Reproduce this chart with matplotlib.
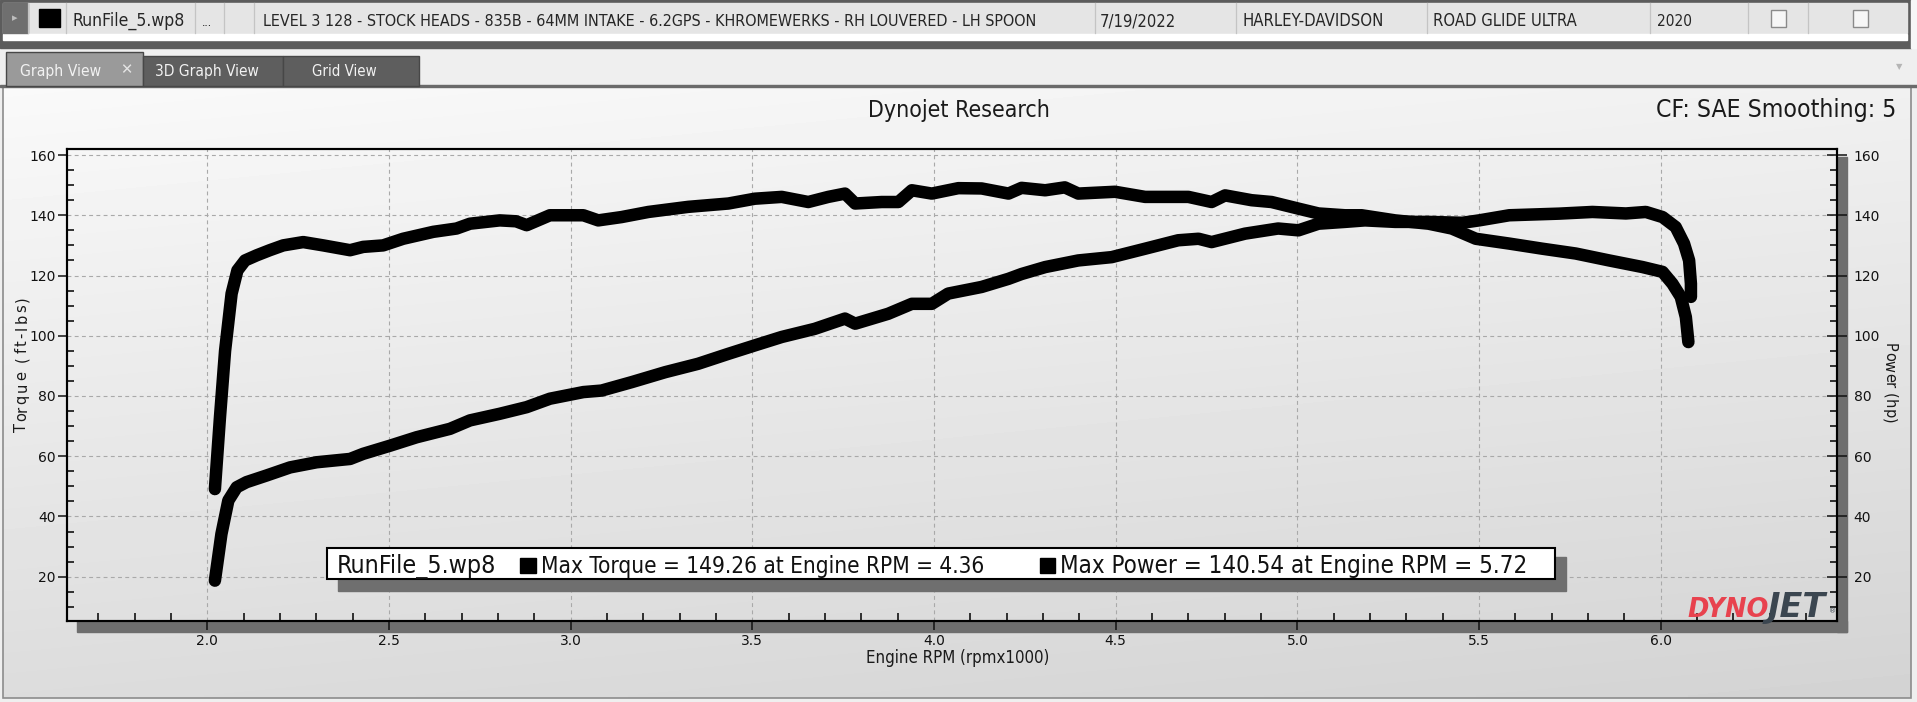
import numpy as np
import matplotlib
matplotlib.use("Agg")
import matplotlib.pyplot as plt
from matplotlib import font_manager as fm
from matplotlib.patches import Rectangle
from matplotlib.ticker import MultipleLocator, FixedLocator

# ------------------------------------------------------------------ data
torque_rpm = [2.021, 2.035, 2.049, 2.067, 2.083, 2.104, 2.136, 2.172, 2.209, 2.264,
              2.319, 2.393, 2.429, 2.484, 2.539, 2.622, 2.686, 2.723, 2.805, 2.850,
              2.879, 2.943, 3.035, 3.076, 3.140, 3.214, 3.324, 3.434, 3.507, 3.581,
              3.654, 3.709, 3.755, 3.783, 3.856, 3.902, 3.939, 3.994, 4.067, 4.131,
              4.205, 4.241, 4.306, 4.360, 4.397, 4.498, 4.581, 4.700, 4.764, 4.801,
              4.874, 4.929, 5.003, 5.058, 5.131, 5.177, 5.269, 5.361, 5.425, 5.491,
              5.583, 5.674, 5.766, 5.858, 5.950, 6.005, 6.032, 6.055, 6.069, 6.076]
torque_ftlb = [49.1, 73.0, 95.0, 114.0, 121.7, 125.0, 126.7, 128.4, 130.0, 131.1,
               130.0, 128.4, 129.5, 130.0, 132.2, 134.5, 135.6, 137.2, 138.3, 138.0,
               136.7, 140.0, 140.0, 138.3, 139.4, 141.1, 142.8, 143.9, 145.5, 146.1,
               144.4, 146.1, 147.2, 143.9, 144.4, 144.4, 148.3, 147.2, 149.0, 148.9,
               147.2, 149.1, 148.3, 149.26, 147.2, 147.8, 146.1, 146.1, 144.4, 146.6,
               145.0, 144.4, 142.2, 140.6, 140.0, 140.0, 138.3, 137.2, 135.6, 132.2,
               130.6, 128.9, 127.3, 125.0, 122.8, 121.2, 117.3, 112.9, 106.2, 97.9]

power_rpm = [2.021, 2.039, 2.058, 2.081, 2.108, 2.163, 2.228, 2.301, 2.393, 2.429,
             2.503, 2.576, 2.668, 2.723, 2.805, 2.879, 2.943, 3.035, 3.085, 3.168,
             3.260, 3.351, 3.434, 3.507, 3.581, 3.672, 3.755, 3.783, 3.874, 3.939,
             3.994, 4.039, 4.131, 4.205, 4.241, 4.306, 4.397, 4.489, 4.581, 4.672,
             4.728, 4.764, 4.856, 4.947, 5.003, 5.058, 5.131, 5.186, 5.269, 5.361,
             5.454, 5.500, 5.583, 5.720, 5.812, 5.904, 5.959, 6.005, 6.041, 6.064,
             6.078, 6.083, 6.083]
power_hp = [18.7, 34.2, 45.3, 49.7, 51.4, 53.6, 56.3, 58.0, 59.1, 60.8,
            63.5, 66.3, 69.1, 71.9, 74.1, 76.3, 79.1, 81.3, 81.8, 84.6,
            87.9, 90.7, 94.0, 96.8, 99.6, 102.3, 105.7, 104.0, 107.3, 110.6,
            110.6, 114.0, 116.2, 118.9, 120.5, 122.8, 125.0, 126.1, 128.9, 131.7,
            132.2, 131.1, 133.9, 135.6, 135.0, 137.2, 137.8, 138.3, 137.8, 137.8,
            137.5, 138.3, 140.0, 140.54, 141.1, 140.6, 141.1, 139.4, 136.1, 130.6,
            125.0, 117.3, 112.9]

x_ticks = [2.0, 2.5, 3.0, 3.5, 4.0, 4.5, 5.0, 5.5, 6.0]
x_ticklabels = ["2.0", "2.5", "3.0", "3.5", "4.0", "4.5", "5.0", "5.5", "6.0"]
y_ticks = [20, 40, 60, 80, 100, 120, 140, 160]
y_ticklabels = ["20", "40", "60", "80", "100", "120", "140", "160"]

row_cells = ["RunFile_5.wp8", "...",
             "LEVEL 3 128 - STOCK HEADS - 835B - 64MM INTAKE - 6.2GPS - KHROMEWERKS - RH LOUVERED - LH SPOON",
             "7/19/2022", "HARLEY-DAVIDSON", "ROAD GLIDE ULTRA", "2020"]
tab_labels = ["Graph View", "3D Graph View", "Grid View"]
title_text = "Dynojet Research"
cf_text = "CF: SAE Smoothing: 5"
x_label = "Engine RPM (rpmx1000)"
y_label_left = "Torque (ft-lbs)"
y_label_right = "Power (hp)"
legend_run = "RunFile_5.wp8"
legend_torque = "Max Torque = 149.26 at Engine RPM = 4.36"
legend_power = "Max Power = 140.54 at Engine RPM = 5.72"

# ------------------------------------------------------------------ fonts
def pick_font():
    ents = fm.fontManager.ttflist
    for e in ents:
        if e.name == "DejaVu Sans" and str(e.stretch) in ("condensed", "semi-condensed") \
                and "Bold" not in e.fname and "Oblique" not in e.fname:
            return "DejaVu Sans", str(e.stretch)
    names = {e.name for e in ents}
    for n in ["DejaVu Sans Condensed", "Liberation Sans Narrow", "Roboto Condensed",
              "Open Sans Condensed"]:
        if n in names:
            return n, "normal"
    return "DejaVu Sans", "normal"

FAM, STRETCH = pick_font()
plt.rcParams["font.family"] = ["DejaVu Sans"]
plt.rcParams["font.stretch"] = "normal"
UI = dict(family=[FAM, "DejaVu Sans"], stretch=STRETCH)

W, H = 1917, 702
fig = plt.figure(figsize=(W / 100, H / 100), dpi=100)
renderer = fig.canvas.get_renderer()

# ------------------------------------------------------------------ background (pixel coords)
bg = fig.add_axes([0, 0, 1, 1], zorder=0)
bg.set_xlim(0, W)
bg.set_ylim(H, 0)
bg.axis("off")
bg.add_patch(Rectangle((0, 0), W, H, color="#efefef", zorder=0))

# panel gradient
v = np.linspace(0, 1, 120)[:, None]
h = np.linspace(0, 1, 240)[None, :]
grad = 0.978 - 0.115 * v - 0.035 * h
bg.imshow(grad, cmap="gray", vmin=0, vmax=1, extent=(3, 1911, 698, 87),
          aspect="auto", interpolation="bilinear", zorder=1)
bg.set_xlim(0, W)
bg.set_ylim(H, 0)
bg.add_patch(Rectangle((3, 86), 1908, 612, fill=False, ec="#8c8c8c", lw=1.2, zorder=2))
bg.add_patch(Rectangle((0, 85), W, 2, color="#6a6a6a", zorder=2))

# top table row
bg.add_patch(Rectangle((0, 0), 1911, 48, color="#5c5c5c", zorder=2))
bg.add_patch(Rectangle((3, 3), 1904, 30, color="#e5e5e5", zorder=3))
bg.add_patch(Rectangle((3, 34), 1904, 6, color="#ffffff", zorder=3))
bg.add_patch(Rectangle((1911, 0), W - 1911, 48, color="#f7f7f7", zorder=3))
bg.add_patch(Rectangle((3, 3), 25, 30, color="#6f6f6f", zorder=4))
bg.text(15, 18, "\u25b8", color="#bdbdbd", fontsize=8, ha="center", va="center", zorder=5)
for sx in [28, 66, 195, 224, 254, 1095, 1236, 1427, 1650, 1748, 1808]:
    bg.plot([sx, sx], [3, 33], color="#c4c4c4", lw=0.9, zorder=4)
bg.add_patch(Rectangle((39, 9), 21, 18, color="#000000", zorder=5))
for cx in [1771, 1853]:
    bg.add_patch(Rectangle((cx, 10), 15, 17, fc="#f6f6f6", ec="#8a8a8a", lw=1, zorder=5))


def fit(ax, s, x0, x1, ybase, color, size0=12, z=6, fp=None, **kw):
    props = dict(UI) if fp is None else fp
    t = ax.text(x0, ybase, s, fontsize=size0, color=color, ha="left", va="baseline",
                zorder=z, **props, **kw)
    w = t.get_window_extent(renderer).width
    t.set_fontsize(size0 * (x1 - x0) / w)
    return t


def tracked_v(ax, s, xc, y0, y1, rot, color, size):
    """Vertical text with even letter spacing so it spans y0..y1 (pixel coords)."""
    em = size * 100 / 72.0
    probe = ax.text(0, 0, "x", fontsize=size)
    wx = probe.get_window_extent(renderer).width
    probe.remove()
    pos = []
    for i in range(len(s)):
        t = ax.text(0, 0, s[:i] + "x", fontsize=size)
        pos.append(t.get_window_extent(renderer).width - wx)
        t.remove()
    t = ax.text(0, 0, s, fontsize=size)
    total = t.get_window_extent(renderer).width
    t.remove()
    extra = max(((y1 - y0) - total) / max(len(s) - 1, 1), 0)
    span = total + extra * (len(s) - 1)
    start = (y0 + y1) / 2 - span / 2
    for i, ch in enumerate(s):
        p = pos[i] + i * extra
        if rot == 90:
            ax.text(xc + 0.36 * em, start + span - p, ch, fontsize=size, color=color,
                    rotation=90, rotation_mode="anchor", ha="left", va="baseline", zorder=6)
        else:
            ax.text(xc - 0.36 * em, start + p, ch, fontsize=size, color=color,
                    rotation=270, rotation_mode="anchor", ha="left", va="baseline", zorder=6)


cell_pos = [(72, 184), (202, 212), (263, 1038), (1100, 1176), (1242, 1383),
            (1433, 1576), (1657, 1692)]
for s, (x0, x1) in zip(row_cells, cell_pos):
    fit(bg, s, x0, x1, 26, "#262626")

# tabs
tab_rects = [(6, 52, 137, 34, "#9a9a9a"), (143, 56, 140, 30, "#5e5e5e"),
             (283, 56, 136, 30, "#5e5e5e")]
for (x, y, w_, h_, c) in tab_rects:
    bg.add_patch(Rectangle((x, y), w_, h_, fc=c, ec="#474747", lw=1, zorder=3))
tab_text_pos = [(20, 101), (155, 258), (312, 377)]
for s, (x0, x1) in zip(tab_labels, tab_text_pos):
    fit(bg, s, x0, x1, 76, "#f2f2f2")
bg.text(126, 70, "\u2715", color="#e4e4e4", fontsize=10.5, ha="center", va="center",
        weight="bold", zorder=6)
bg.text(1899, 67, "\u25bc", color="#b5b5b5", fontsize=6, ha="center", va="center", zorder=6)

# titles
fit(bg, title_text, 868, 1050, 117, "#1a1a1a")
fit(bg, cf_text, 1656, 1896, 117, "#1a1a1a")
fit(bg, x_label, 866, 1049, 663, "#1a1a1a")
tracked_v(bg, y_label_left, 21, 296, 432, 90, "#1a1a1a", 10.5)
tracked_v(bg, y_label_right, 1890, 343, 424, 270, "#1a1a1a", 10.5)

# plot shadow
bg.add_patch(Rectangle((77, 621), 1770, 11, color="#6e6e6e", zorder=4))
bg.add_patch(Rectangle((1837, 157), 10, 475, color="#6e6e6e", zorder=4))

# ------------------------------------------------------------------ main plot
L, R, T, B = 67, 1837, 149, 621
ax = fig.add_axes([L / W, (H - B) / H, (R - L) / W, (B - T) / H], zorder=2)
ax.patch.set_visible(False)
ax.set_xlim(1.614, 6.485)
ax.set_ylim(5.3, 162.0)

ax.plot(torque_rpm, torque_ftlb, color="black", lw=9, solid_capstyle="round",
        solid_joinstyle="round", zorder=4)
ax2 = ax.twinx()
ax2.set_ylim(5.3, 162.0)
ax2.plot(power_rpm, power_hp, color="black", lw=9, solid_capstyle="round",
         solid_joinstyle="round", zorder=4)

for a in (ax, ax2):
    for sp in a.spines.values():
        sp.set_linewidth(1.5)
        sp.set_color("black")

ax.xaxis.set_major_locator(FixedLocator(x_ticks))
ax.set_xticklabels(x_ticklabels)
ax.xaxis.set_minor_locator(MultipleLocator(0.1))
ax.yaxis.set_major_locator(FixedLocator(y_ticks))
ax.set_yticklabels(y_ticklabels)
ax.yaxis.set_minor_locator(MultipleLocator(5))
ax2.yaxis.set_major_locator(FixedLocator(y_ticks))
ax2.set_yticklabels(y_ticklabels)
ax2.yaxis.set_minor_locator(MultipleLocator(5))

ax.grid(True, which="major", color="#a9a9a9", lw=0.8, ls=(0, (3.5, 3)))
ax.tick_params(axis="x", which="major", direction="out", length=6.5, width=1.1,
               labelsize=10, pad=3, colors="#111111")
ax.tick_params(axis="x", which="minor", direction="in", length=5.8, width=1.1)
ax.tick_params(axis="y", which="major", direction="out", length=6.5, width=1.1,
               labelsize=10, pad=1.5, colors="#111111")
ax.tick_params(axis="y", which="minor", direction="in", length=5, width=1.1)
ax2.tick_params(axis="y", which="major", direction="inout", length=14, width=1.1,
                labelsize=10, pad=5, colors="#111111")
ax2.tick_params(axis="y", which="minor", direction="in", length=5, width=1.1)

# ------------------------------------------------------------------ overlay (legend, logo)
ov = fig.add_axes([0, 0, 1, 1], zorder=5)
ov.set_xlim(0, W)
ov.set_ylim(H, 0)
ov.axis("off")
ov.patch.set_visible(False)
ov.add_patch(Rectangle((338, 557), 1228, 34, color="#6f6f6f", zorder=1))
ov.add_patch(Rectangle((327, 548), 1228, 31, fc="white", ec="black", lw=1.5, zorder=2))
fit(ov, legend_run, 337, 496, 573, "#111111", z=3)
ov.add_patch(Rectangle((520, 558), 16, 15, color="black", zorder=3))
fit(ov, legend_torque, 541, 985, 573, "#111111", z=3)
ov.add_patch(Rectangle((1040, 558), 15, 15, color="black", zorder=3))
fit(ov, legend_power, 1060, 1526, 573, "#111111", z=3)

logo_fp = dict(family="DejaVu Sans", weight="bold", style="italic", stretch="normal")
fit(ov, "DYNO", 1687, 1768, 617, "#e8424e", z=3, fp=logo_fp)
fit(ov, "JET", 1768, 1826, 617, "#3b4650", z=3, fp=logo_fp)
ov.text(1829, 613, "\u00ae", color="#3b4650", fontsize=5, ha="left", va="baseline", zorder=3)

fig.savefig("out.png", dpi=100)
